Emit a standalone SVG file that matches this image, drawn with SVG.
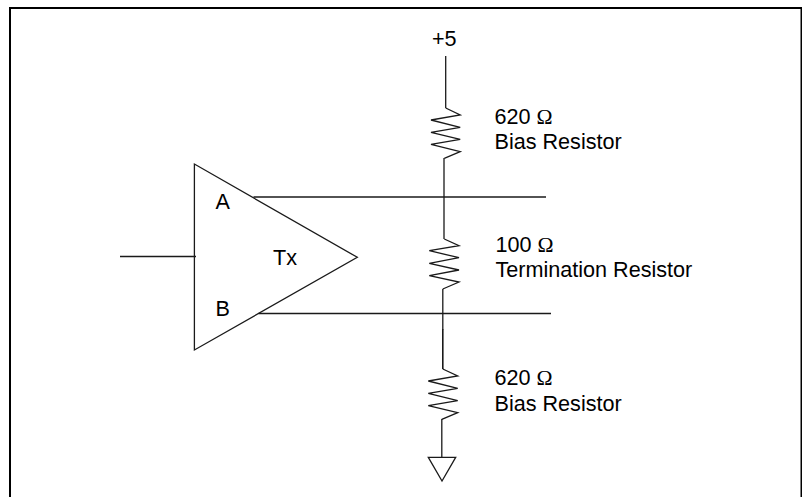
<svg xmlns="http://www.w3.org/2000/svg" width="802" height="497" viewBox="0 0 802 497">
<style>
text{font-family:"Liberation Sans",Arial,sans-serif;font-size:21.6px;fill:#000}
.o{font-family:"Liberation Serif","Times New Roman",serif}
.w{fill:none;stroke:#1a1a1a;stroke-width:1.3;stroke-linejoin:miter}
</style>
<rect width="802" height="497" fill="#fff"/>
<path id="frame" d="M10 497V8H801.500V497" fill="none" stroke="#000" stroke-width="2"/>
<g id="connectors">
<path class="w" d="M120 256.500H196"/>
<path class="w" d="M253.500 197H546"/>
<path class="w" d="M258.500 313.500H551"/>
<path class="w" d="M445.700 56V108"/>
<path class="w" d="M444 158V239"/>
<path class="w" d="M442.800 289V329.500"/>
<path class="w" d="M442.800 329V369" style="stroke-width:1.6"/>
<path class="w" d="M441.800 419V457.300"/>
</g>
<g id="driver">
<path class="w" d="M194.400 164V350L357.300 257.300Z"/>
<text x="215.500" y="209">A</text>
<text x="215.500" y="315.500">B</text>
<text x="273" y="265">Tx</text>
</g>
<g id="supply"><text x="432" y="46">+5</text></g>
<g id="r1">
<path class="w" d="M445.700 108L460.200 115L431 120L460.200 127.300L431 132.300L460.200 139.300L431 144.300L460.200 151.700L444.300 158.300"/>
<text x="494.500" y="123.500">620 <tspan class="o">Ω</tspan></text>
<text x="494.500" y="148.500">Bias Resistor</text>
</g>
<g id="r2">
<path class="w" d="M444.300 239L459 245.700L429.300 250.700L459 257.700L429.300 263.300L459 270L429.300 275.700L459 282L442.800 289"/>
<text x="495.500" y="251.500">100 <tspan class="o">Ω</tspan></text>
<text x="495.500" y="276.500">Termination Resistor</text>
</g>
<g id="r3">
<path class="w" d="M442.800 369L457.700 376L428.300 381L457.700 388.300L428.300 393.300L457.700 400.700L428.300 405.700L457.700 412.700L441.800 419.300"/>
<text x="494.500" y="385">620 <tspan class="o">Ω</tspan></text>
<text x="494.500" y="410.500">Bias Resistor</text>
</g>
<g id="ground"><path class="w" d="M428.300 457.300H455.700L442 481Z"/></g>
</svg>
